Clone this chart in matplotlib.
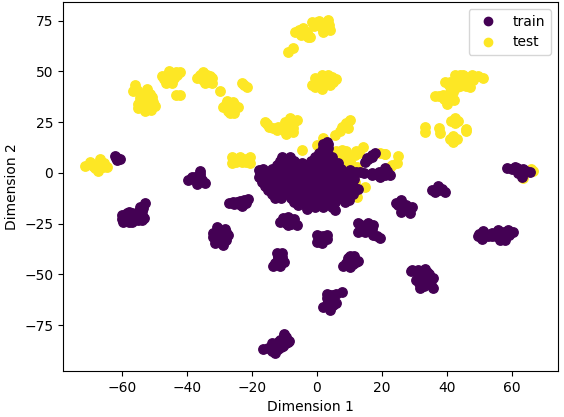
import matplotlib
matplotlib.use("Agg")
import matplotlib.pyplot as plt
from matplotlib.lines import Line2D

VIRIDIS_LOW = "#440154"
VIRIDIS_HIGH = "#fde725"
labels = ["train", "test"]

test_points = [
    (-56,43.3),(-56.7,40.5),(-52.4,41.2),(-53.9,37.6),(-50.9,37.6),(-55,31.9),(-49.8,33),(-52.2,32.7),(-53.9,35.1),(-51.9,36),(-55,34),
    (-54.5,39),(-52.8,39),(-52,34.5),(-53,30.5),(-51,31),(-54.5,37),(-55.3,41),(-51.5,39),(-50.5,35),(-53.5,32),
    (-47.8,47.8),(-46.5,44.2),(-44.7,44.5),(-44.7,49.4),(-42.2,49.8),(-43.2,48.3),(-46.3,48.3),(-43.5,38.4),(-42.2,38.4),
    (-46,46),(-45,47),(-47,46.5),(-44,47),(-45.5,50),(-43.5,49.8),
    (-36.8,46.6),(-35,49.9),(-32.4,46.6),(-35,45.8),(-32.4,44.5),(-33.9,48.3),(-30,40.5),
    (-34,47),(-36,48),(-33.5,45),(-34.5,44.5),(-35.7,47.5),(-33,47.5),
    (-27.6,35.5),(-28.8,32.4),(-24.2,32.4),(-26.8,29.7),(-26.8,33),(-23.2,44.5),(-21.6,42.5),
    (-27,31.5),(-25.5,31.5),(-28,34),(-25.5,34),(-27.5,30.5),(-26,35),(-25.5,29.5),(-22.4,43.5),
    (-16,25),(-14.7,22.8),(-11.9,22.8),(-12.4,21.2),(-9.5,19),(-7.3,22),(-8.3,26.9),(-6.1,26.1),(-9.3,22.8),(-4.5,11.3),
    (-15.3,24),(-13.5,22),(-10.5,22),(-9,21),(-8,24),(-10,25),(-7,25),(-7.5,20),(-10,20.5),
    (-26.3,8),(-26.3,5.1),(-23.2,5.6),(-20.6,8),(-20.6,4.8),(-23.7,8),(-25,7),(-25,5.5),(-22,7),(-22,5.5),(-21.5,6.5),(-26,6.5),
    (-8.8,59.8),(-7.5,61.4),(-6.8,69.6),(-4.2,71.2),(-2.7,67.1),(-4.7,69.6),(-2.2,66.8),(-1.6,74.5),(1.9,69.6),(4,70.4),(3.5,75.4),(0.9,72.9),(-0.1,74.5),
    (-5.5,70.5),(-5,68),(-3.5,68),(-3.2,69.5),(-1,72.5),(1.5,71.5),(2.8,72),(3.8,73),(0.5,75),
    (-1.6,43.3),(1.4,48.3),(1.4,41.2),(6,46.1),(4,43.3),(-0.6,46.6),(4.5,47.1),(1.4,44.5),
    (0,44),(1,46),(2.5,45),(-0.5,42.5),(3,46),(5,45),(0,46),(2,43),(3.5,48),
    (36.3,38.1),(39.4,45),(42.5,48.3),(45,48.3),(47.6,48.3),(51.2,47),(47.1,42.2),(43,42.2),(38.9,38.4),(39.9,33.8),(42.2,36),(45,45),(41,40),
    (41,45),(43,45),(44,46),(46,46),(48,46),(49.5,47.5),(44,43),(46,43),(40.5,43.5),(42,40),(40.5,36),(41,38),(39,36.5),(37.5,38),(44,48),(46.5,47),
    (33.2,22.6),(33.2,20.1),(37.6,22),(37.8,19.5),(41.4,25.8),(43.5,25.8),(41.1,16.6),(43,16.6),(45.8,20.5),
    (42.5,24.8),(42.5,27),(42,15.2),(42,18),(45.8,21.5),
    (10.2,26.1),(7.6,22.8),(5.5,18.7),(8.6,23.6),(1.9,17),(-0.1,13.8),(9,24.5),(7,20.5),(9.5,22),
    (7.6,11.3),(14.2,13),(11.7,8.9),(7.6,6.4),(10.2,8),(12.2,3.1),(8.6,1.5),(14.8,-6.7),(11.7,-4.3),(12.2,-11.7),
    (9,9),(9,11),(10,6),(12,11),(13,10),(8.5,3.5),(10.5,4.5),(6,8.5),(6,11),
    (20.9,9.4),(19.5,9.6),(25,8.4),(23,3.9),(24.5,4.8),(22.5,3.1),(21,9.2),
    (66.6,1.1),(66,2),(63.4,-2.5),
]

test_top_points = [
    (-71.4,3.4),(-69.8,5.6),(-66.8,6.8),(-64.7,3.1),(-67.3,1),(-68.3,2.3),(-66,3),(-70,4.5),(-68,4),(-66.5,4),(-65.5,5),(-69,3.5),
]

train_points = [
    (-66.5,4.5),(-61.6,7.2),(-62.1,8.3),(-60.6,7),(-61.6,6.5),(-62,7.5),
    (-36,1.1),(-39.6,-3.4),(-37.5,-1.8),(-34.5,-4.8),(-36.8,-5.4),(-38,-3),(-36,-2),(-35.5,-3.5),(-37,-4),(-36,-0.5),(-38.5,-2),
    (-60.1,-20.7),(-58,-19.1),(-55,-19.1),(-53.4,-22.3),(-59.6,-24),(-57,-24),(-52.9,-14.6),(-54.5,-16.6),(-57.5,-21.5),(-55,-23.2),
    (-59,-22),(-57,-20),(-56,-22),(-55,-21),(-58.5,-20),(-54,-20.5),(-54,-19),(-53.5,-17.5),(-54,-23),(-57.5,-23.5),(-60,-22.5),(-58,-24),
    (-30.9,-26.8),(-32.1,-29.4),(-27.3,-30.5),(-28.3,-27.7),(-31.4,-34.3),(-28.8,-35.5),(-29.8,-30.5),
    (-30,-28.5),(-31,-32),(-29.5,-33),(-28,-33),(-28,-29),(-30,-29),(-32,-31.5),(-30.5,-30.5),(-29,-31.5),
    (-27,-14.9),(-24.7,-14.1),(-23.2,-16.3),(-21.1,-13),(-25.5,-15.5),(-26,-14.5),(-24,-15.5),(-22,-15),(-22.5,-13.5),(-23.8,-14),
    (-11.4,-24),(-8.8,-21.8),(-6.2,-25.6),(-8.8,-25.6),(-10.5,-22),(-10,-23.5),(-7.5,-24),(-9.5,-24.8),(-7,-22.8),(-8,-25),
    (-12.4,-39.6),(-10.9,-39.6),(-10.2,-43.7),(-13.6,-45.8),(-11.4,-45.8),(-11.9,-42),(-12,-41),(-11,-41.5),(-12.2,-44),(-11,-44),(-10.7,-41.5),(-12.8,-44.3),
    (-16.5,-86.9),(-14,-83.9),(-12.9,-88.8),(-10.4,-85.5),(-10.2,-79.3),(-8.5,-82.6),(-11.4,-82.3),(-15,-86.4),
    (-13,-85),(-12,-87),(-11,-84),(-10,-82),(-9.5,-81),(-9.5,-84),(-12,-83.5),(-14,-87.5),(-9,-83.5),(-10.2,-80.5),(-13.5,-85.5),(-11,-86),
    (-0.1,-30.5),(3,-30.5),(-0.1,-33.8),(1.4,-34.6),(3,-32.7),(1.5,-32),(0.5,-31),(2,-31),(0.5,-33.5),(1.8,-33),
    (10.2,-40.7),(12.7,-43.2),(8.1,-45.8),(10.2,-46.5),(10.5,-43.5),(9.5,-42),(11.5,-42),(9,-44.5),(11,-45),(11.5,-41),(12,-44),
    (7.6,-58.8),(3,-59.6),(5,-60.1),(1.9,-66.2),(4,-67.5),(6,-64.2),(3.5,-63.4),(4,-61.5),(3,-61.5),(5,-62),(3.5,-65),(5,-65),(2.8,-65.5),(4.5,-63),(4,-60),(6,-59.5),
    (12.7,-24.8),(15.8,-24.8),(12.7,-28.9),(14.8,-28.9),(17.3,-25.6),(19.4,-32.2),(17.3,-30.5),(14,-27),(15.5,-26.5),(16,-28),(13.5,-25.5),(16.8,-27.5),(18.5,-31),(14,-26),
    (24.3,-14.9),(26,-13.3),(29.1,-16.6),(26,-19.1),(28.6,-19.9),(27.5,-16),(25,-16),(26.5,-17),(27.5,-18),(28,-17.5),(25.5,-14.5),
    (29.1,-47.8),(33.2,-47.4),(35.8,-51.9),(35.8,-56.8),(31.7,-56.8),(30.6,-52.7),(33.2,-53.5),
    (31,-50),(33,-50),(34.5,-50),(32,-52),(34,-53),(35,-55),(33,-55.5),(31.5,-54),(29,-48.5),(31,-48),(34,-49),
    (49.6,-31),(51,-28.4),(50.7,-32.7),(53.8,-29.7),(55.8,-28.1),(56.3,-33),(58.9,-28.1),(60.4,-29.2),(57.8,-33.3),
    (50,-30),(52,-30),(52.5,-31),(54,-31),(55,-31),(57,-31),(56,-29.5),(58,-30),(59,-30.5),(57.5,-29),
    (58.6,2.6),(62,1.5),(65.5,0.6),(63,-1.8),(60.9,3.1),(60,2),(61.5,2.5),(62,0),(63.5,0.5),(64.5,1),(63.5,2),
    (37.3,-7.5),(39.4,-9.2),(36.3,-9.2),(37.3,-6.4),(37.5,-8.5),(38.5,-8),(37,-8),(35.5,-8.5),
    (17.8,9.7),(15.8,6.7),(14.8,5.5),(20.9,2.3),(22.5,-1),(19.4,-1.8),(16.8,-1),(13.2,0.6),(10.2,1.5),
    (16.8,8),(15.5,7.5),(17,9),(18,-0.5),(17,0),(19,0.5),(20.5,0.5),(21.5,1),(21,-1),(14.5,0),(12,0.5),(11.5,-0.5),
    (3,15.4),(1.9,12.2),(3.5,12.2),(2,14),(3.5,14),
    (-10.9,8),(-8.3,8),(-0.6,8),(1.9,8),(4.5,8),(0.5,10),(3,10),
    (-11.5,6),(-9.5,6),(-7,6),(-4.5,5),(-2,6),(0.5,6),(3,6),
    (-12.4,3.9),(-8.3,2.5),(-5.7,3.9),(-3.2,3.9),(-0.6,3.9),(1.9,3.9),(4.5,3.9),(6.6,4.8),
    (-16.5,2),(-14,2),(-11,2),(-9.5,2),(-7,2),(-4.5,2),(-2,2),(0.5,2),(3,2),(5.5,2),(7.5,2),
    (-18,1.5),(-17.5,-0.2),(-15,-0.2),(-12.4,-0.2),(-9.6,-0.2),(-7,-0.2),(-4.5,-0.2),(-2,-0.2),(0.5,-0.2),(3,-0.2),(5.5,-0.2),(8,-0.2),
    (-18,-2.2),(-15.5,-2.2),(-13,-2.2),(-10.5,-2.2),(-8,-2.2),(-5.5,-2.2),(-3,-2.2),(-0.5,-2.2),(2,-2.2),(4.5,-2.2),(7,-2.2),(9.5,-2.2),
    (-17,-4.3),(-14,-4.3),(-11.5,-4.3),(-9,-4.3),(-6.5,-4.3),(-4,-4.3),(-1.5,-4.3),(1,-4.3),(3.5,-4.3),(6,-4.3),(8.5,-4.3),(11.5,-3),
    (-16,-6.3),(-13.5,-6.3),(-11,-6.3),(-8.5,-6.3),(-6,-6.3),(-3.5,-6.3),(-1,-6.3),(1.5,-6.3),(4,-6.3),(6.5,-6.3),(9,-6.3),(11,-6.3),
    (-15,-8.4),(-12.4,-8.4),(-10,-8.4),(-7.5,-8.4),(-5,-8.4),(-2.5,-8.4),(0,-8.4),(2.5,-8.4),(5,-8.4),(7.5,-8.4),(10,-8.4),(12.5,-8),
    (-14,-10.4),(-11.5,-10.4),(-9,-10.4),(-6.5,-10.4),(-4,-10.4),(-1.5,-10.4),(1,-10.4),(3.5,-10.4),(6,-10.4),(8.5,-10.4),(11,-10.4),
    (-13,-12.5),(-11,-12.5),(-8,-12.5),(-5.5,-12.5),(-3,-12.5),(-0.5,-12.5),(2,-12.5),(4.5,-12.5),(7,-12.5),(9.6,-12.5),(10,-13.3),
    (-7,-14.5),(-4.5,-14.5),(-2,-14.5),(0.5,-14.5),(3,-14.5),(5.5,-14.5),(8.5,-14.5),
    (-6,-16),(-3.2,-16.6),(-0.5,-16.6),(2,-16.6),(4.5,-16.6),(5.5,-18.2),(-3,-18),
]

fig = plt.figure(figsize=(5.64, 4.17), dpi=100)
ax = fig.add_axes([63/564, 1-371/417, 495/564, 369/417])

for pts, colour in ((test_points, VIRIDIS_HIGH), (train_points, VIRIDIS_LOW), (test_top_points, VIRIDIS_HIGH)):
    xs, ys = zip(*pts)
    ax.scatter(xs, ys, c=colour, s=46)

ax.set_xlim(-78.2, 74.2)
ax.set_ylim(-97.6, 84.2)
ax.set_xticks([-60, -40, -20, 0, 20, 40, 60])
ax.set_yticks([-75, -50, -25, 0, 25, 50, 75])
ax.set_xlabel("Dimension 1")
ax.set_ylabel("Dimension 2")
handles = [Line2D([0], [0], linestyle="none", marker="o", color=c, markersize=6)
           for c in (VIRIDIS_LOW, VIRIDIS_HIGH)]
ax.legend(handles, labels, loc="upper right")
fig.savefig("out.png", dpi=100)
